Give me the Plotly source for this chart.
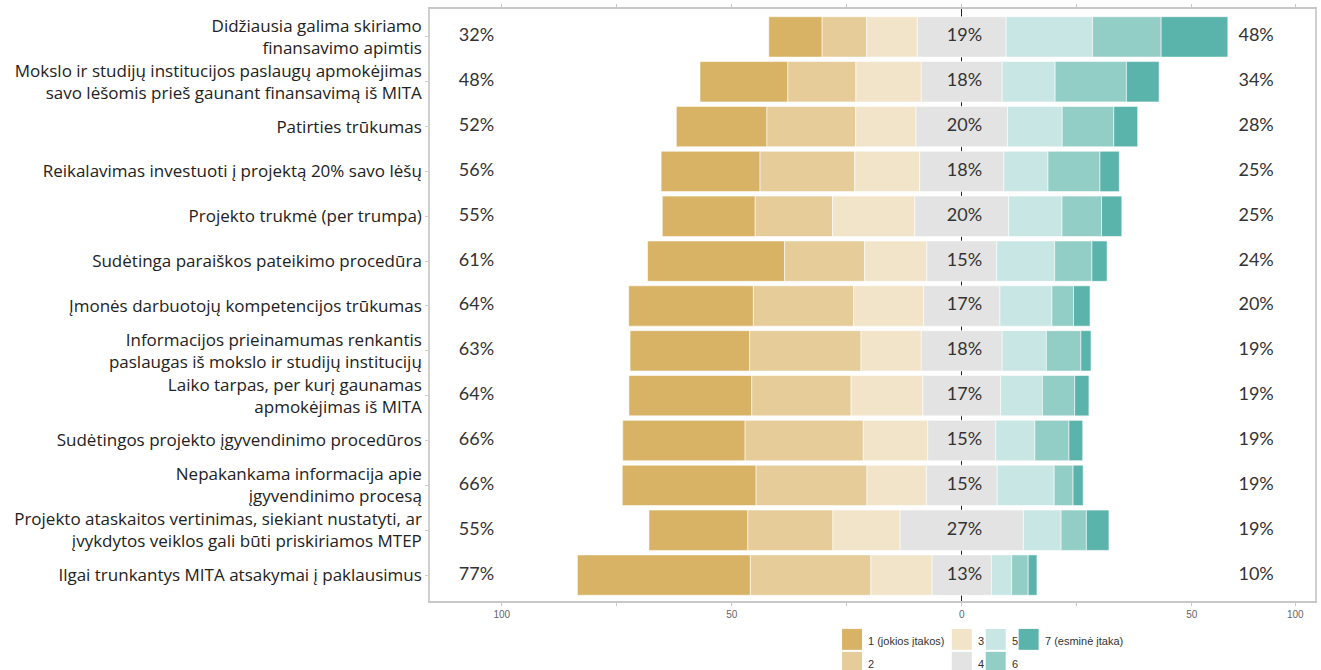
import numpy as np
import plotly.graph_objects as go

# Factors, listed top to bottom
categories = [
    "Didžiausia galima skiriamo<br>finansavimo apimtis",
    "Mokslo ir studijų institucijos paslaugų apmokėjimas<br>savo lėšomis prieš gaunant finansavimą iš MITA",
    "Patirties trūkumas",
    "Reikalavimas investuoti į projektą 20% savo lėšų",
    "Projekto trukmė (per trumpa)",
    "Sudėtinga paraiškos pateikimo procedūra",
    "Įmonės darbuotojų kompetencijos trūkumas",
    "Informacijos prieinamumas renkantis<br>paslaugas iš mokslo ir studijų institucijų",
    "Laiko tarpas, per kurį gaunamas<br>apmokėjimas iš MITA",
    "Sudėtingos projekto įgyvendinimo procedūros",
    "Nepakankama informacija apie<br>įgyvendinimo procesą",
    "Projekto ataskaitos vertinimas, siekiant nustatyti, ar<br>įvykdytos veiklos gali būti priskiriamos MTEP",
    "Ilgai trunkantys MITA atsakymai į paklausimus",
]

# Share of answers (%) on the 1..7 impact scale
score_1 = [11.6, 19.1, 19.7, 21.5, 20.2, 29.8, 27.1, 26.0, 26.7, 26.6, 29.1, 21.5, 37.6]
score_2 = [9.7, 14.8, 19.3, 20.6, 16.8, 17.4, 21.8, 24.2, 21.6, 25.7, 24.1, 18.5, 26.2]
score_3 = [11.0, 14.2, 13.1, 14.1, 17.9, 13.5, 15.2, 13.1, 15.6, 14.0, 12.9, 14.6, 13.3]
score_4 = [19.3, 17.6, 19.9, 18.3, 20.4, 15.2, 16.6, 17.6, 16.9, 14.8, 15.4, 26.8, 12.9]
score_5 = [18.8, 11.5, 11.9, 9.6, 11.6, 12.6, 11.3, 9.6, 9.1, 8.5, 12.4, 8.2, 4.4]
score_6 = [14.9, 15.5, 11.2, 11.3, 8.6, 8.1, 4.7, 7.5, 7.0, 7.4, 4.1, 5.5, 3.6]
score_7 = [14.5, 7.1, 5.2, 4.2, 4.4, 3.3, 3.6, 2.2, 3.1, 3.0, 2.2, 4.9, 1.9]

legend_names = ["1 (jokios įtakos)", "2", "3", "4", "5", "6", "7 (esminė įtaka)"]
colors = ["#D8B365", "#E5CC99", "#F2E4C9", "#E3E3E3", "#C8E6E4", "#93CEC6", "#5AB4AC"]

tick_values = [-100, -50, 0, 50, 72.5]
tick_labels = ["100", "50", "0", "50", "100"]

scores = np.array([score_1, score_2, score_3, score_4, score_5, score_6, score_7])
low = scores[:3].sum(axis=0)
mid = scores[3]
high = scores[4:].sum(axis=0)

# Diverging layout: neutral category centred on zero
start = -(low + mid / 2)
bases = start + np.vstack([np.zeros(len(categories)), np.cumsum(scores, axis=0)[:-1]])

fig = go.Figure()
for k in range(7):
    fig.add_trace(go.Bar(
        y=categories, x=scores[k], base=bases[k], orientation="h",
        name=legend_names[k], width=0.9,
        marker=dict(color=colors[k], line=dict(color="rgba(255,255,255,0.7)", width=0.8)),
        showlegend=False, hoverinfo="skip",
    ))

pct_font = dict(family="Lato, 'Open Sans', sans-serif", size=18, color="#333333")
fig.add_trace(go.Scatter(
    y=categories, x=[-105.5] * len(categories), mode="text",
    text=[f"{v:.0f}%" for v in low], textfont=pct_font, showlegend=False, hoverinfo="skip"))
fig.add_trace(go.Scatter(
    y=categories, x=[0.6] * len(categories), mode="text",
    text=[f"{v:.0f}%" for v in mid], textfont=pct_font, showlegend=False, hoverinfo="skip"))
fig.add_trace(go.Scatter(
    y=categories, x=[64] * len(categories), mode="text",
    text=[f"{v:.0f}%" for v in high], textfont=pct_font, showlegend=False, hoverinfo="skip"))

W, H = 1321, 670
M = dict(l=430, r=4, t=7, b=69)
pw, ph = W - M["l"] - M["r"], H - M["t"] - M["b"]


def px_x(p):
    return (p - M["l"]) / pw


def px_y(p):
    return (H - M["b"] - p) / ph


# Two-row legend below the plot
legend_cells = [
    (0, 843, 629), (1, 843, 652), (2, 953, 629), (3, 953, 652),
    (4, 987, 629), (5, 987, 652), (6, 1020, 629),
]
shapes = []
annotations = []
for k, x0, y0 in legend_cells:
    shapes.append(dict(type="rect", xref="paper", yref="paper",
                       x0=px_x(x0), x1=px_x(x0 + 20), y0=px_y(y0), y1=px_y(y0 + 21),
                       fillcolor=colors[k], line=dict(width=0), layer="above"))
    annotations.append(dict(xref="paper", yref="paper", x=px_x(x0 + 24), y=px_y(y0 + 12),
                            text=legend_names[k], showarrow=False, xanchor="left",
                            yanchor="middle", font=dict(family="Arial, Liberation Sans", size=11,
                                                        color="#333333")))

fig.update_layout(
    width=W, height=H, margin=M,
    plot_bgcolor="white", paper_bgcolor="white",
    barmode="overlay", bargap=0.1,
    shapes=shapes, annotations=annotations,
    xaxis=dict(
        range=[-115.6, 76.8], tickvals=tick_values, ticktext=tick_labels,
        showgrid=False, zeroline=True, zerolinecolor="#222222", zerolinewidth=1,
        showline=True, linecolor="#C8C8C8", linewidth=2, mirror="ticks",
        ticks="outside", ticklen=3, tickcolor="#C8C8C8",
        minor=dict(tickvals=[-75, -25, 25], ticks="outside", ticklen=3, tickcolor="#C8C8C8"),
        tickfont=dict(family="Arial, Liberation Sans", size=10, color="#5F6670"),
        fixedrange=True,
    ),
    yaxis=dict(
        categoryorder="array", categoryarray=categories,
        range=[12.578, -0.622], showgrid=False, zeroline=False,
        showline=True, linecolor="#D0D0D0", linewidth=1.5, mirror=True,
        ticks="outside", ticklen=3, tickcolor="#D0D0D0",
        tickfont=dict(family="'Open Sans', Lato, sans-serif", size=17, color="#222222"),
        fixedrange=True,
    ),
)

fig.write_html("out.html")
